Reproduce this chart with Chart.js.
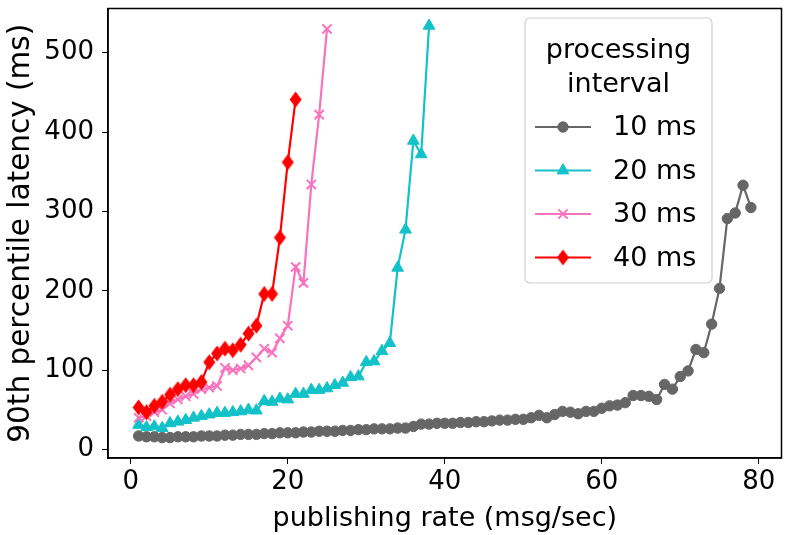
<!DOCTYPE html>
<html>
<head>
<meta charset="utf-8">
<script src="https://cdn.jsdelivr.net/npm/chart.js@4"></script>
<style>
  html, body { margin: 0; padding: 0; background: #fff; }
  #wrap { width: 790px; height: 535px; }
</style>
</head>
<body>
<div id="wrap"><canvas id="grafico" width="790" height="535"></canvas></div>
<script>
// publishing rate (msg/sec)
const rates = [1, 2, 3, 4, 5, 6, 7, 8, 9, 10, 11, 12, 13, 14, 15, 16, 17, 18, 19, 20,
    21, 22, 23, 24, 25, 26, 27, 28, 29, 30, 31, 32, 33, 34, 35, 36, 37, 38, 39, 40,
    41, 42, 43, 44, 45, 46, 47, 48, 49, 50, 51, 52, 53, 54, 55, 56, 57, 58, 59, 60,
    61, 62, 63, 64, 65, 66, 67, 68, 69, 70, 71, 72, 73, 74, 75, 76, 77, 78, 79];

// 90th percentile latency (ms) per processing interval
const lat10 = [17, 16, 16, 15, 15, 16, 16, 16, 17, 17,
    17, 18, 18, 19, 19, 19, 20, 20, 21, 21,
    21, 22, 22, 23, 23, 23, 24, 24, 25, 25,
    26, 26, 26, 27, 27, 29, 32, 32, 33, 33,
    33, 34, 34, 35, 35, 36, 37, 37, 38, 38,
    40, 43, 40, 44, 48, 47, 45, 48, 48, 52,
    55, 56, 59, 68, 68, 67, 63, 82, 76, 92,
    99, 126, 122, 158, 203, 291, 298, 333, 305];
const lat20 = [31, 28, 29, 27, 33, 35, 37, 40, 42, 44,
    46, 46, 47, 48, 50, 49, 61, 60, 64, 63,
    70, 70, 75, 75, 77, 81, 84, 91, 92, 110,
    111, 124, 134, 229, 277, 389, 372, 534];
const lat30 = [40, 42, 47, 50, 58, 63, 67, 70, 76, 78,
    80, 103, 100, 102, 106, 116, 127, 122, 140, 156,
    230, 210, 334, 422, 530];
const lat40 = [53, 47, 55, 60, 69, 76, 81, 81, 85, 110,
    121, 127, 125, 132, 146, 156, 196, 196, 267, 362, 441];

const seriesLabels = ['10 ms', '20 ms', '30 ms', '40 ms'];
const xTicks = [0, 20, 40, 60, 80];
const yTicks = [0, 100, 200, 300, 400, 500];

const fuente = 'DejaVu Sans';

// thin diamond like matplotlib 'd'
const diamante = document.createElement('canvas');
diamante.width = 13;
diamante.height = 17;
(() => {
    const c = diamante.getContext('2d');
    c.fillStyle = '#ff0000';
    c.beginPath();
    c.moveTo(6.5, 0.5);
    c.lineTo(12.5, 8.5);
    c.lineTo(6.5, 16.5);
    c.lineTo(0.5, 8.5);
    c.closePath();
    c.fill();
})();

const aPuntos = (vals) => vals.map((v, i) => ({ x: rates[i], y: v }));

const dataLatencia = {
    datasets: [
        {
            label: seriesLabels[0],
            data: aPuntos(lat10),
            borderColor: '#666666',
            backgroundColor: '#666666',
            pointStyle: 'circle',
            pointRadius: 5.2,
            order: 4
        },
        {
            label: seriesLabels[1],
            data: aPuntos(lat20),
            borderColor: '#13c1c8',
            backgroundColor: '#13c1c8',
            pointStyle: 'triangle',
            pointRadius: 6.8,
            order: 3
        },
        {
            label: seriesLabels[2],
            data: aPuntos(lat30),
            borderColor: '#f872bc',
            backgroundColor: '#f872bc',
            pointStyle: 'crossRot',
            pointRadius: 6.5,
            pointBorderWidth: 2,
            order: 2
        },
        {
            label: seriesLabels[3],
            data: aPuntos(lat40),
            borderColor: '#ff0000',
            backgroundColor: '#ff0000',
            pointStyle: diamante,
            pointRadius: 6,
            order: 1
        }
    ]
};

// full box around the plot, like matplotlib spines
const marco = {
    id: 'marco',
    afterDraw(chart) {
        const { ctx, chartArea: a } = chart;
        ctx.save();
        ctx.strokeStyle = '#000';
        ctx.lineWidth = 1.5;
        ctx.strokeRect(a.left, a.top, a.right - a.left, a.bottom - a.top);
        ctx.restore();
    }
};

// legend box inside the plot with a two-line title
const leyenda = {
    id: 'leyenda',
    afterDraw(chart) {
        const ctx = chart.ctx;
        const x0 = 525, y0 = 18, w = 187, h = 265;
        ctx.save();
        ctx.beginPath();
        ctx.roundRect(x0, y0, w, h, 5);
        ctx.fillStyle = 'rgba(255,255,255,0.85)';
        ctx.fill();
        ctx.strokeStyle = '#d0d0d0';
        ctx.lineWidth = 1.2;
        ctx.stroke();

        ctx.fillStyle = '#000';
        ctx.font = '27px "' + fuente + '"';
        ctx.textAlign = 'center';
        ctx.textBaseline = 'middle';
        ctx.fillText('processing', x0 + w / 2, 51);
        ctx.fillText('interval', x0 + w / 2, 85);

        chart.data.datasets.forEach((ds, i) => {
            const y = 127 + i * 43.5;
            ctx.strokeStyle = ds.borderColor;
            ctx.lineWidth = 2.2;
            ctx.beginPath();
            ctx.moveTo(535, y);
            ctx.lineTo(591, y);
            ctx.stroke();
            ctx.fillStyle = ds.backgroundColor;
            ctx.lineWidth = ds.pointBorderWidth || 1;
            Chart.helpers.drawPoint(ctx, {
                pointStyle: ds.pointStyle,
                radius: ds.pointRadius,
                rotation: 0,
                borderWidth: ds.pointBorderWidth || 1
            }, 563, y);
            ctx.fillStyle = '#000';
            ctx.textAlign = 'left';
            ctx.fillText(ds.label, 613, y + 1);
        });
        ctx.restore();
    }
};

const configLatencia = {
    type: 'line',
    data: dataLatencia,
    options: {
        responsive: false,
        animation: false,
        events: [],
        layout: { padding: { top: 8, right: 3, left: 0, bottom: 0 } },
        elements: {
            line: { borderWidth: 2.2, tension: 0 },
            point: { borderWidth: 1 }
        },
        plugins: {
            legend: { display: false },
            tooltip: { enabled: false },
            title: { display: false }
        },
        scales: {
            x: {
                type: 'linear',
                min: -2.9,
                max: 82.9,
                afterBuildTicks: (s) => { s.ticks = xTicks.map(v => ({ value: v })); },
                afterFit: (s) => { s.height = 77; s.paddingLeft = 0; s.paddingRight = 0; },
                grid: { display: true, drawOnChartArea: false, drawTicks: true, tickLength: 6, color: '#000' },
                border: { display: true, color: '#000', width: 1.5 },
                ticks: { color: '#000', font: { family: fuente, size: 26 }, padding: 3, maxRotation: 0 },
                title: {
                    display: true,
                    text: 'publishing rate (msg/sec)',
                    color: '#000',
                    font: { family: fuente, size: 27 },
                    padding: { top: 0, bottom: 0 }
                }
            },
            y: {
                type: 'linear',
                min: -10.75,
                max: 555.75,
                afterBuildTicks: (s) => { s.ticks = yTicks.map(v => ({ value: v })); },
                afterFit: (s) => { s.width = 108; s.paddingTop = 0; s.paddingBottom = 0; },
                grid: { display: true, drawOnChartArea: false, drawTicks: true, tickLength: 6, color: '#000' },
                border: { display: true, color: '#000', width: 1.5 },
                ticks: { color: '#000', font: { family: fuente, size: 26 }, padding: 8 },
                title: {
                    display: true,
                    text: '90th percentile latency (ms)',
                    color: '#000',
                    font: { family: fuente, size: 29.5 },
                    padding: { top: 4, bottom: 0 }
                }
            }
        }
    },
    plugins: [marco, leyenda]
};

new Chart(document.getElementById('grafico'), configLatencia);
</script>
</body>
</html>
